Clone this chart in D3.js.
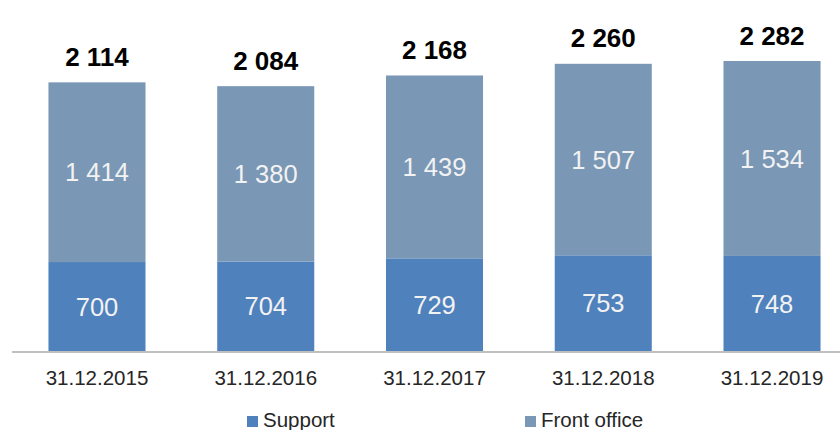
<!DOCTYPE html>
<html><head><meta charset="utf-8">
<script src="https://cdn.jsdelivr.net/npm/d3@7"></script>
<style>body{margin:0;background:#fff;} svg{display:block;font-family:"Liberation Sans",Arial,sans-serif;}</style>
</head><body>
<svg id="c" width="840" height="430"></svg>
<script>
const categories = ["31.12.2015","31.12.2016","31.12.2017","31.12.2018","31.12.2019"];
const support = [700, 704, 729, 753, 748];
const frontOffice = [1414, 1380, 1439, 1507, 1534];
const seriesNames = ["Support", "Front office"];
const colors = ["#4f81bd", "#7a97b5"];

const svg = d3.select("#c");
const data = categories.map((c,i)=>({cat:c, Support:support[i], "Front office":frontOffice[i]}));
const stack = d3.stack().keys(seriesNames)(data);

const x = d3.scaleBand().domain(categories).range([12.6, 856.4]).paddingInner(0.425).paddingOuter(0.2125);
const y = d3.scaleLinear().domain([0, 2282]).range([351, 61]);

// bars
stack.forEach((s, si) => {
  svg.append("g").selectAll("rect").data(s).join("rect")
    .attr("x", d => x(d.data.cat))
    .attr("width", x.bandwidth())
    .attr("y", d => y(d[1]))
    .attr("height", d => y(d[0]) - y(d[1]))
    .attr("fill", colors[si]);
  svg.append("g").selectAll("text").data(s).join("text")
    .attr("x", d => x(d.data.cat) + x.bandwidth()/2)
    .attr("y", d => (y(d[0]) + y(d[1]))/2)
    .attr("dy", "0.36em")
    .attr("text-anchor", "middle")
    .attr("fill", "#f2f2f2")
    .attr("font-size", 25.5)
    .text(d => d3.format(",")(d[1]-d[0]).replace(/,/g, " "));
});

// totals
svg.append("g").selectAll("text").data(data).join("text")
  .attr("x", d => x(d.cat) + x.bandwidth()/2)
  .attr("y", d => y(d.Support + d["Front office"]) - 16.5)
  .attr("text-anchor", "middle")
  .attr("font-size", 26)
  .attr("font-weight", "bold")
  .attr("fill", "#000")
  .text(d => d3.format(",")(d.Support + d["Front office"]).replace(/,/g, " "));

// axis
const xAxis = svg.append("g").attr("transform", `translate(0,${y(0)+0.5})`)
  .call(d3.axisBottom(x).tickSize(0).tickPadding(19));
xAxis.select(".domain").attr("d", "M12,0.5H840").attr("stroke", "#bfbfbf").attr("stroke-width", 2);
xAxis.selectAll("text").attr("font-size", 20.5).attr("fill", "#262626")
  .attr("font-family", "'Liberation Sans',Arial,sans-serif");

// legend
const legendX = [247, 525];
const lg = svg.append("g").selectAll("g").data(seriesNames).join("g")
  .attr("transform", (d,i) => `translate(${legendX[i]},416)`);
lg.append("rect").attr("width", 11).attr("height", 11).attr("fill", (d,i)=>colors[i]);
lg.append("text").attr("x", 16).attr("y", 10.7).attr("font-size", 20.5).attr("fill", "#262626").text(d=>d);
</script>
</body></html>
